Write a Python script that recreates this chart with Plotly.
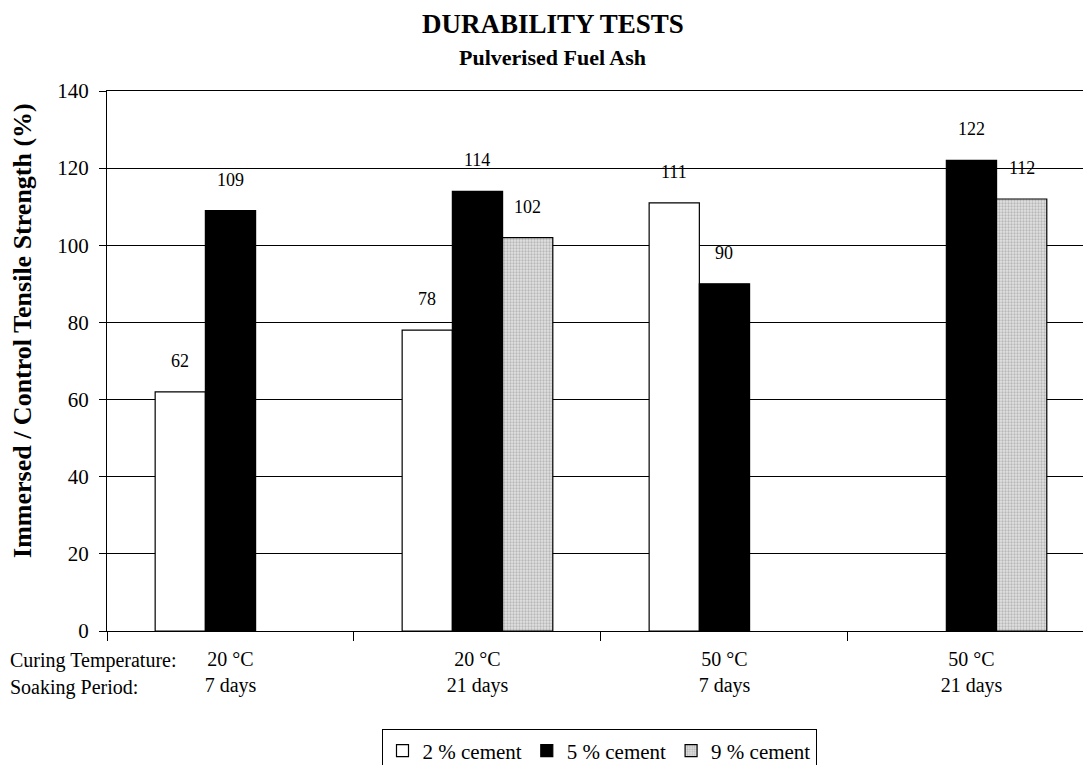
import plotly.graph_objects as go

categories = ["20 °C<br>7 days", "20 °C<br>21 days", "50 °C<br>7 days", "50 °C<br>21 days"]
cement_2 = [62, 78, 111, None]
cement_5 = [109, 114, 90, 122]
cement_9 = [None, 102, None, 112]
series_names = ["2 % cement", "5 % cement", "9 % cement"]
y_ticks = [0, 20, 40, 60, 80, 100, 120, 140]

FONT = "Liberation Serif"

fig = go.Figure()
fig.add_trace(go.Bar(
    x=categories, y=cement_2, name=series_names[0],
    marker=dict(color="white", line=dict(color="black", width=1.2)),
))
fig.add_trace(go.Bar(
    x=categories, y=cement_5, name=series_names[1],
    marker=dict(color="black", line=dict(color="black", width=1.2)),
))
fig.add_trace(go.Bar(
    x=categories, y=cement_9, name=series_names[2],
    marker=dict(color="#d6d6d6", line=dict(color="black", width=1.2),
                pattern=dict(shape=".", fgcolor="#8c8c8c", bgcolor="#e2e2e2", size=3, solidity=0.45)),
))

# value labels above bars (data coordinates, shifted to each bar of the group)
bar_px = 50.2
for k, series in enumerate([cement_2, cement_5, cement_9]):
    for cat, v in zip(categories, series):
        if v is None:
            continue
        fig.add_annotation(x=cat, y=v, xref="x", yref="y", text=str(v), showarrow=False,
                           xshift=(k - 1) * bar_px, yshift=19, yanchor="bottom",
                           font=dict(family=FONT, size=18, color="black"))

fig.update_layout(
    width=1083, height=757,
    paper_bgcolor="white", plot_bgcolor="white",
    margin=dict(l=99, r=0, t=83, b=134, autoexpand=False),
    barmode="group", bargap=0.39, bargroupgap=0,
    font=dict(family=FONT, color="black"),
    legend=dict(
        orientation="h", x=0.5, xanchor="center", y=-0.262, yanchor="bottom",
        bordercolor="black", borderwidth=1, bgcolor="white",
        font=dict(family=FONT, size=21, color="black"),
        itemwidth=30, traceorder="normal", tracegroupgap=0,
    ),
    showlegend=True,
)
fig.update_xaxes(
    range=[-0.5, 3.484], showline=True, linecolor="black", linewidth=1, mirror=True,
    ticks="outside", tickson="boundaries", ticklen=9, tickcolor="black",
    ticklabelstandoff=10,
    tickfont=dict(family=FONT, size=20, color="black"), showgrid=False, automargin=False,
)
fig.update_yaxes(
    range=[0, 140], tickvals=y_ticks, showline=True, linecolor="black", linewidth=1,
    ticks="outside", ticklen=7, tickcolor="black", ticklabelstandoff=6,
    showgrid=True, gridcolor="black", gridwidth=1,
    tickfont=dict(family=FONT, size=21, color="black"),
    zeroline=False, automargin=False,
)

# titles
fig.add_annotation(text="<b>DURABILITY TESTS</b>", xref="paper", yref="paper",
                   x=0.453, y=1.124, xanchor="center", yanchor="middle", showarrow=False,
                   font=dict(family=FONT, size=27, color="black"))
fig.add_annotation(text="<b>Pulverised Fuel Ash</b>", xref="paper", yref="paper",
                   x=0.453, y=1.062, xanchor="center", yanchor="middle", showarrow=False,
                   font=dict(family=FONT, size=22, color="black"))
fig.add_annotation(text="<b>Immersed / Control Tensile Strength (%)</b>", xref="paper", yref="paper",
                   x=-0.0864, y=0.5, xanchor="center", yanchor="middle", showarrow=False,
                   textangle=-90, yshift=31,
                   font=dict(family=FONT, size=26, color="black"))

fig.add_annotation(text="Curing Temperature:", xref="paper", yref="paper",
                   x=-0.1006, y=-0.054, xanchor="left", yanchor="middle", showarrow=False,
                   font=dict(family=FONT, size=20, color="black"))
fig.add_annotation(text="Soaking Period:", xref="paper", yref="paper",
                   x=-0.1006, y=-0.105, xanchor="left", yanchor="middle", showarrow=False,
                   font=dict(family=FONT, size=20, color="black"))

fig.write_html("out.html")
